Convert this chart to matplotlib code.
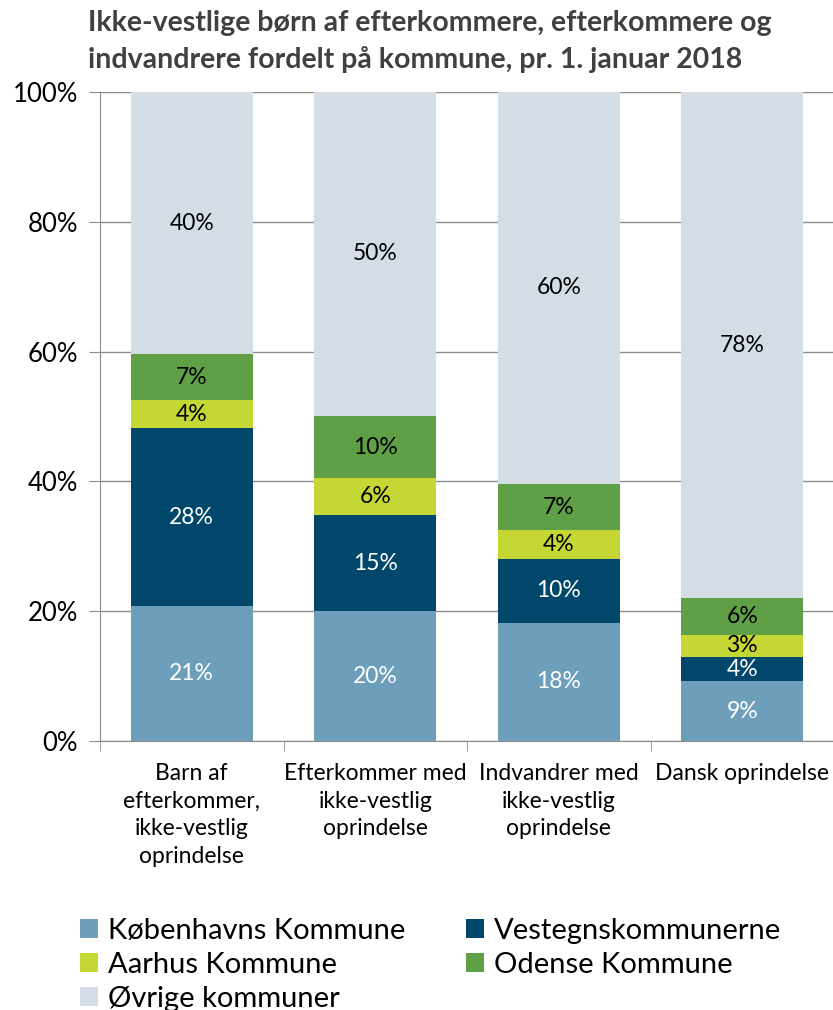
import matplotlib
matplotlib.use("Agg")
import matplotlib.pyplot as plt
from matplotlib.patches import Patch
import numpy as np

plt.rcParams['font.family'] = ['Lato', 'DejaVu Sans']

categories = ["Barn af\nefterkommer,\nikke-vestlig\noprindelse",
              "Efterkommer med\nikke-vestlig\noprindelse",
              "Indvandrer med\nikke-vestlig\noprindelse",
              "Dansk oprindelse"]
series_names = ["Københavns Kommune", "Vestegnskommunerne", "Aarhus Kommune",
                "Odense Kommune", "Øvrige kommuner"]
kbh = [20.8, 20.0, 18.2, 9.2]
vestegn = [27.4, 14.8, 9.9, 3.7]
aarhus = [4.3, 5.7, 4.4, 3.5]
odense = [7.1, 9.6, 7.1, 5.6]
oevrige = [40.4, 49.9, 60.4, 78.0]
labels = [["21%", "20%", "18%", "9%"],
          ["28%", "15%", "10%", "4%"],
          ["4%", "6%", "4%", "3%"],
          ["7%", "10%", "7%", "6%"],
          ["40%", "50%", "60%", "78%"]]
colors = ["#6e9fba", "#00476b", "#c4d734", "#5f9f45", "#d4dde6"]
text_colors = ["white", "white", "black", "black", "black"]

fig = plt.figure(figsize=(8.33, 10.10), dpi=100)
ax = fig.add_axes([100/833, 1 - 741/1010, 734/833, (741-92)/1010])

x = np.arange(len(categories))
bottom = np.zeros(len(categories))
for vals, col, tc, labs in zip([kbh, vestegn, aarhus, odense, oevrige], colors, text_colors, labels):
    vals = np.array(vals)
    ax.bar(x, vals, bottom=bottom, width=0.665, color=col, zorder=3)
    for xi, v, b, l in zip(x, vals, bottom, labs):
        ax.text(xi, b + v / 2, l, ha='center', va='center', color=tc, fontsize=16.5, zorder=4)
    bottom += vals

ax.set_xlim(-0.5, 3.5)
ax.set_ylim(0, 100)
ax.set_yticks(np.arange(0, 101, 20))
ax.set_yticklabels([f"{v}%" for v in range(0, 101, 20)], fontsize=18.5)
ax.yaxis.grid(True, color="#8c8c8c", linewidth=1, zorder=0)
ax.set_axisbelow(True)
for s in ["top", "right"]:
    ax.spines[s].set_visible(False)
ax.spines["left"].set_color("#8c8c8c")
ax.spines["bottom"].set_color("#8c8c8c")
ax.tick_params(axis='y', length=8, color="#8c8c8c", pad=8)
ax.set_xticks(x)
ax.set_xticklabels(categories, fontsize=16.5, linespacing=1.38)
ax.tick_params(axis='x', length=0, pad=16)
ax.set_xticks(np.arange(-0.5, 3.6, 1), minor=True)
ax.tick_params(axis='x', which='minor', length=7, color="#8c8c8c")

fig.text(88/833, 1 - 10/1010, "Ikke-vestlige børn af efterkommere, efterkommere og\nindvandrere fordelt på kommune, pr. 1. januar 2018",
         fontsize=20.5, fontweight='bold', color="#404040", ha='left', va='top', linespacing=1.45)

order = [0, 2, 4, 1, 3]
handles = [Patch(facecolor=colors[i], edgecolor='none') for i in order]
names = [series_names[i] for i in order]
fig.legend(handles, names, loc='upper left', bbox_to_anchor=(80/833, 1 - 918/1010),
           ncol=2, frameon=False, fontsize=21, handlelength=0.6, handleheight=0.6,
           handletextpad=0.35, columnspacing=2.1, labelspacing=0.27, borderaxespad=0,
           borderpad=0)

fig.savefig("out.png", dpi=100)
